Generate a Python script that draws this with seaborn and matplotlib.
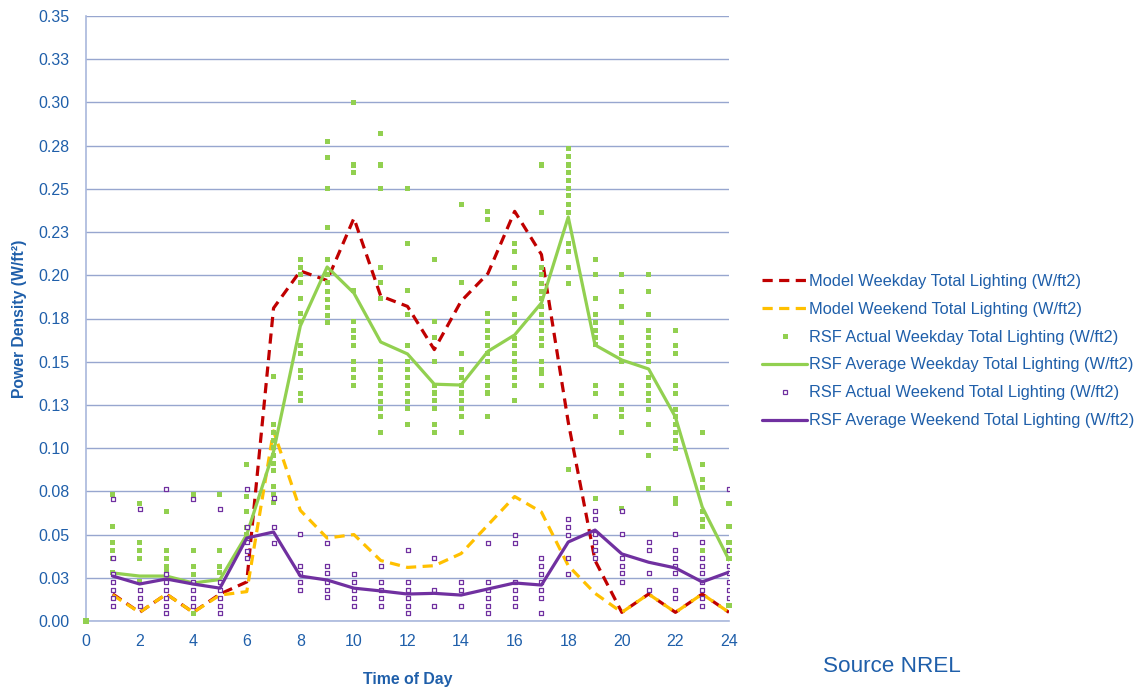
import numpy as np
import pandas as pd
import matplotlib
matplotlib.use("Agg")
import matplotlib.pyplot as plt
import seaborn as sns
from matplotlib.lines import Line2D

# ---- data -------------------------------------------------------------
hours = list(range(1, 25))

model_weekday = [0.0156, 0.005, 0.0156, 0.005, 0.0156, 0.0226, 0.181, 0.2025,
                 0.197, 0.233, 0.188, 0.182, 0.157, 0.185, 0.201, 0.237,
                 0.212, 0.115, 0.035, 0.005, 0.0156, 0.005, 0.0156, 0.005]
model_weekend = [0.015, 0.005, 0.0156, 0.005, 0.015, 0.017, 0.110, 0.064,
                 0.048, 0.050, 0.035, 0.031, 0.032, 0.039, 0.0555, 0.072,
                 0.063, 0.032, 0.016, 0.005, 0.0156, 0.005, 0.0156, 0.005]
avg_weekday = [0.0278, 0.026, 0.026, 0.022, 0.024, 0.050, 0.098, 0.1707,
               0.2048, 0.1897, 0.1614, 0.1545, 0.137, 0.1365, 0.156, 0.1655,
               0.184, 0.2337, 0.1597, 0.151, 0.1458, 0.118, 0.066, 0.0353]
avg_weekend = [0.026, 0.0214, 0.0243, 0.0214, 0.019, 0.048, 0.0515, 0.026,
               0.0237, 0.019, 0.0174, 0.0156, 0.016, 0.015, 0.0185, 0.022,
               0.0208, 0.0457, 0.0526, 0.0388, 0.034, 0.0307, 0.0226, 0.0283]

# individual weekday readings, by hour of day
actual_weekday = {
    0: [0.0],
    1: [0.0729, 0.0544, 0.0457, 0.041, 0.0364, 0.0278],
    2: [0.068, 0.0457, 0.041, 0.0364, 0.0226],
    3: [0.0636, 0.041, 0.0364, 0.0318, 0.0295],
    4: [0.0729, 0.041, 0.0318, 0.027, 0.0046],
    5: [0.0729, 0.041, 0.0318, 0.0278],
    6: [0.0908, 0.0723, 0.0636, 0.054, 0.05],
    7: [0.1414, 0.1138, 0.1092, 0.1047, 0.1003, 0.0957, 0.0912, 0.0868,
        0.0777, 0.0729, 0.0683],
    8: [0.2093, 0.2047, 0.2002, 0.1957, 0.1865, 0.178, 0.1732, 0.1593,
        0.1545, 0.1452, 0.141, 0.1317, 0.1273],
    9: [0.2773, 0.2683, 0.2504, 0.2276, 0.2093, 0.2002, 0.1957, 0.1905,
        0.1861, 0.1813, 0.1769, 0.1726],
    10: [0.3001, 0.2638, 0.2594, 0.1911, 0.1732, 0.1683, 0.1639, 0.1593,
         0.15, 0.1456, 0.141, 0.1365],
    11: [0.2821, 0.2638, 0.2504, 0.2047, 0.1957, 0.1865, 0.15, 0.1456,
         0.141, 0.1365, 0.1317, 0.127, 0.1231, 0.1182, 0.1092],
    12: [0.2504, 0.2186, 0.1911, 0.1776, 0.1593, 0.15, 0.1456, 0.141,
         0.1365, 0.1317, 0.127, 0.1231, 0.1136],
    13: [0.2093, 0.1732, 0.1639, 0.15, 0.1363, 0.1319, 0.1273, 0.1228,
         0.1136, 0.1092],
    14: [0.2412, 0.1957, 0.1545, 0.1456, 0.141, 0.1363, 0.1319, 0.1273,
         0.1228, 0.1182, 0.1092],
    15: [0.2368, 0.232, 0.178, 0.1732, 0.1683, 0.1639, 0.1593, 0.1545,
         0.15, 0.141, 0.1363, 0.1319, 0.1182],
    16: [0.2186, 0.2138, 0.2047, 0.1955, 0.1863, 0.1774, 0.1726, 0.1636,
         0.1591, 0.1545, 0.15, 0.1456, 0.141, 0.1363, 0.1274],
    17: [0.2638, 0.2366, 0.2047, 0.2002, 0.1955, 0.1909, 0.1863, 0.1818,
         0.1774, 0.1726, 0.1683, 0.1636, 0.1591, 0.15, 0.1456, 0.1433,
         0.1363],
    18: [0.2731, 0.2686, 0.2638, 0.2594, 0.2547, 0.2504, 0.2459, 0.2412,
         0.2366, 0.2186, 0.2138, 0.2047, 0.1955, 0.0874],
    19: [0.2093, 0.2002, 0.1863, 0.1774, 0.1728, 0.1683, 0.1639, 0.1597,
         0.1365, 0.1317, 0.1182, 0.0706],
    20: [0.2002, 0.1909, 0.1818, 0.1728, 0.1639, 0.1593, 0.1549, 0.15,
         0.1365, 0.1317, 0.1226, 0.1182, 0.1092, 0.0652],
    21: [0.2002, 0.1909, 0.1774, 0.1683, 0.1639, 0.1593, 0.1549, 0.15,
         0.141, 0.1365, 0.1317, 0.1273, 0.1226, 0.1136, 0.0955, 0.0764],
    22: [0.1683, 0.1593, 0.1549, 0.1365, 0.1317, 0.1226, 0.1182, 0.1136,
         0.1092, 0.1047, 0.0998, 0.0709, 0.0681],
    23: [0.1092, 0.0908, 0.0816, 0.0773, 0.0636, 0.059, 0.0546, 0.0455,
         0.041],
    24: [0.0681, 0.0546, 0.0455, 0.041, 0.0362, 0.0089],
}

# individual weekend readings, by hour of day
actual_weekend = {
    1: [0.0706, 0.0364, 0.027, 0.0226, 0.018, 0.0133, 0.0087],
    2: [0.0648, 0.018, 0.0133, 0.0087],
    3: [0.0764, 0.027, 0.0226, 0.018, 0.0133, 0.0087, 0.0046],
    4: [0.0706, 0.0226, 0.018, 0.0133, 0.0087],
    5: [0.0648, 0.0226, 0.018, 0.0133, 0.0087, 0.0046],
    6: [0.0764, 0.0544, 0.0457, 0.0405, 0.0364],
    7: [0.071, 0.0544, 0.0451],
    8: [0.0502, 0.032, 0.0276, 0.0228, 0.0179],
    9: [0.0453, 0.032, 0.0276, 0.0228, 0.0179, 0.0137],
    10: [0.0272, 0.0228, 0.0179, 0.0135, 0.0089],
    11: [0.0318, 0.0228, 0.0179, 0.0135, 0.0089],
    12: [0.0409, 0.0228, 0.0179, 0.0135, 0.0089, 0.0044],
    13: [0.0362, 0.0179, 0.0089],
    14: [0.0228, 0.0179, 0.0089],
    15: [0.0453, 0.0228, 0.0179, 0.0135, 0.0089, 0.0044],
    16: [0.05, 0.0453, 0.0228, 0.0179, 0.0135, 0.0089],
    17: [0.0362, 0.0318, 0.0272, 0.0228, 0.0179, 0.0135, 0.0044],
    18: [0.059, 0.0546, 0.05, 0.0362, 0.0272],
    19: [0.0636, 0.059, 0.0502, 0.0455, 0.041, 0.0362],
    20: [0.0636, 0.0502, 0.0362, 0.0318, 0.0276, 0.0228],
    21: [0.0455, 0.041, 0.0276, 0.0179],
    22: [0.0502, 0.041, 0.0362, 0.0318, 0.0276, 0.0179, 0.0135],
    23: [0.0455, 0.0362, 0.0318, 0.0276, 0.0228, 0.0179, 0.0135, 0.0089],
    24: [0.0764, 0.041, 0.0318, 0.0276, 0.0228, 0.0179, 0.0135],
}

y_ticks = [0.0, 0.025, 0.05, 0.075, 0.1, 0.125, 0.15, 0.175, 0.2, 0.225,
           0.25, 0.275, 0.3, 0.325, 0.35]
y_tick_labels = ["0.00", "0.03", "0.05", "0.08", "0.10", "0.13", "0.15",
                 "0.18", "0.20", "0.23", "0.25", "0.28", "0.30", "0.33", "0.35"]
x_ticks = list(range(0, 25, 2))

labels = [
    "Model Weekday Total Lighting (W/ft2)",
    "Model Weekend Total Lighting (W/ft2)",
    "RSF Actual Weekday Total Lighting (W/ft2)",
    "RSF Average Weekday Total Lighting (W/ft2)",
    "RSF Actual Weekend Total Lighting (W/ft2)",
    "RSF Average Weekend Total Lighting (W/ft2)",
]

# ---- styling ----------------------------------------------------------
sns.set_theme(style="white")
plt.rcParams["font.family"] = ["Liberation Sans", "DejaVu Sans"]

TEXT = "#1F5FAA"
GRID = "#97A6CF"
RED = "#C00000"
YELLOW = "#FFC000"
GREEN = "#92D050"
PURPLE = "#7030A0"

fig = plt.figure(figsize=(11.42, 6.87), dpi=100)
ax = fig.add_axes([86 / 1142, 1 - 621 / 687, (729 - 86) / 1142, (621 - 16) / 687])

lines_df = pd.DataFrame({
    "hour": hours,
    "model_weekday": model_weekday,
    "model_weekend": model_weekend,
    "avg_weekday": avg_weekday,
    "avg_weekend": avg_weekend,
})
wd_pts = pd.DataFrame([(h, v) for h, vals in actual_weekday.items() for v in vals],
                      columns=["hour", "value"])
we_pts = pd.DataFrame([(h, v) for h, vals in actual_weekend.items() for v in vals],
                      columns=["hour", "value"])

dash = (3.2, 2.0)
sns.lineplot(data=lines_df, x="hour", y="model_weekday", ax=ax, color=RED,
             lw=2.3, estimator=None, sort=False, zorder=3)
ax.lines[-1].set_dashes(dash)
sns.lineplot(data=lines_df, x="hour", y="model_weekend", ax=ax, color=YELLOW,
             lw=2.3, estimator=None, sort=False, zorder=3.1)
ax.lines[-1].set_dashes(dash)
sns.scatterplot(data=wd_pts, x="hour", y="value", ax=ax, marker="s", s=13,
                color=GREEN, edgecolor="none", linewidth=0, zorder=3.2,
                clip_on=False)
sns.lineplot(data=lines_df, x="hour", y="avg_weekday", ax=ax, color=GREEN,
             lw=2.3, estimator=None, sort=False, zorder=3.3)
sns.scatterplot(data=we_pts, x="hour", y="value", ax=ax, marker="s", s=9,
                facecolor="white", edgecolor=PURPLE, linewidth=0.9, zorder=3.4)
sns.lineplot(data=lines_df, x="hour", y="avg_weekend", ax=ax, color=PURPLE,
             lw=2.3, estimator=None, sort=False, zorder=3.5)

# ---- axes -------------------------------------------------------------
ax.set_xlim(0, 24)
ax.set_ylim(0, 0.35)
ax.set_xticks(x_ticks)
ax.set_yticks(y_ticks)
ax.set_yticklabels(y_tick_labels)
ax.grid(axis="y", color=GRID, lw=1.0)
ax.grid(axis="x", visible=False)
ax.set_axisbelow(True)
for side in ("top", "right"):
    ax.spines[side].set_visible(False)
for side in ("left", "bottom"):
    ax.spines[side].set_color("#A9B8DC")
    ax.spines[side].set_linewidth(1.2)
ax.tick_params(axis="both", which="major", direction="out", length=5,
               width=1, color=GRID, labelcolor=TEXT, labelsize=11.5)
ax.tick_params(axis="y", pad=7)
ax.tick_params(axis="x", pad=4)

ax.set_xlabel("Time of Day", color=TEXT, fontsize=11.4, fontweight="bold",
              labelpad=17)
ax.set_ylabel("Power Density (W/ft²)", color=TEXT, fontsize=11.3,
              fontweight="bold", labelpad=8)

# ---- legend -----------------------------------------------------------
handles = [
    Line2D([], [], color=RED, lw=2.3, dashes=dash),
    Line2D([], [], color=YELLOW, lw=2.3, dashes=dash),
    Line2D([], [], color=GREEN, lw=0, marker="s", markersize=3.6,
           markeredgewidth=0),
    Line2D([], [], color=GREEN, lw=2.3),
    Line2D([], [], color=PURPLE, lw=0, marker="s", markersize=3.1,
           markerfacecolor="white", markeredgecolor=PURPLE,
           markeredgewidth=0.9),
    Line2D([], [], color=PURPLE, lw=2.3),
]
leg = fig.legend(handles, labels, loc="center left",
                 bbox_to_anchor=(762 / 1142, 1 - 351 / 687), frameon=False,
                 fontsize=11.8, handlelength=2.75, handletextpad=0.12,
                 labelspacing=0.79, borderpad=0, borderaxespad=0)
for t in leg.get_texts():
    t.set_color(TEXT)

fig.text(823 / 1142, 1 - 667 / 687, "Source NREL", color=TEXT, fontsize=16.2,
         ha="left", va="center")

fig.savefig("out.png", dpi=100)
